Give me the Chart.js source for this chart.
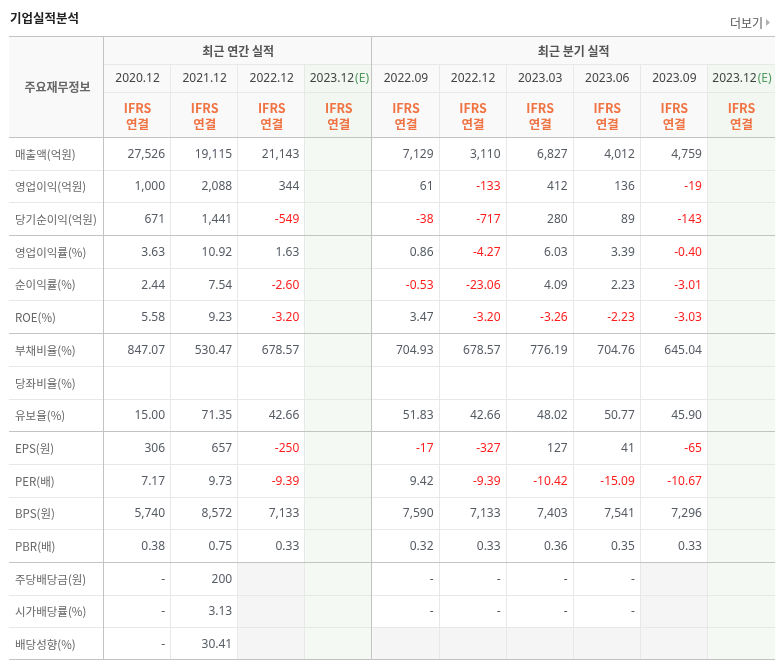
<!DOCTYPE html>
<html>
<head>
<meta charset="utf-8">
<script src="https://cdn.jsdelivr.net/npm/chart.js@4.4.0/dist/chart.umd.min.js"></script>
<style>
html,body{margin:0;padding:0;background:#fff;}
canvas{display:block;}
</style>
</head>
<body>
<canvas id="c" width="781" height="665"></canvas>
<script>
// ---- texts ----
const pageTitle = '기업실적분석';
const moreLabel = '더보기';
const annualHeader = '최근 연간 실적';
const quarterHeader = '최근 분기 실적';
const rowHeader = '주요재무정보';
const basisLines = ['IFRS', '연결'];
const estimateMark = '(E)';

// ---- categories ----
const annualPeriods = ['2020.12', '2021.12', '2022.12', '2023.12'];
const quarterPeriods = ['2022.09', '2022.12', '2023.03', '2023.06', '2023.09', '2023.12'];
const estimateFlags = [false, false, false, true, false, false, false, false, false, true];
const metrics = [
  '매출액(억원)', '영업이익(억원)', '당기순이익(억원)',
  '영업이익률(%)', '순이익률(%)', 'ROE(%)',
  '부채비율(%)', '당좌비율(%)', '유보율(%)',
  'EPS(원)', 'PER(배)', 'BPS(원)', 'PBR(배)',
  '주당배당금(원)', '시가배당률(%)', '배당성향(%)'
];

// ---- values (10 columns: 4 annual, 6 quarterly) ----
// null = empty cell, '' = not provided (shaded), '-' = dash
const revenue        = [27526, 19115, 21143, null, 7129, 3110, 6827, 4012, 4759, null];
const operatingProfit= [1000, 2088, 344, null, 61, -133, 412, 136, -19, null];
const netIncome      = [671, 1441, -549, null, -38, -717, 280, 89, -143, null];
const operatingMargin= [3.63, 10.92, 1.63, null, 0.86, -4.27, 6.03, 3.39, -0.40, null];
const netMargin      = [2.44, 7.54, -2.60, null, -0.53, -23.06, 4.09, 2.23, -3.01, null];
const roe            = [5.58, 9.23, -3.20, null, 3.47, -3.20, -3.26, -2.23, -3.03, null];
const debtRatio      = [847.07, 530.47, 678.57, null, 704.93, 678.57, 776.19, 704.76, 645.04, null];
const quickRatio     = [null, null, null, null, null, null, null, null, null, null];
const reserveRatio   = [15.00, 71.35, 42.66, null, 51.83, 42.66, 48.02, 50.77, 45.90, null];
const eps            = [306, 657, -250, null, -17, -327, 127, 41, -65, null];
const per            = [7.17, 9.73, -9.39, null, 9.42, -9.39, -10.42, -15.09, -10.67, null];
const bps            = [5740, 8572, 7133, null, 7590, 7133, 7403, 7541, 7296, null];
const pbr            = [0.38, 0.75, 0.33, null, 0.32, 0.33, 0.36, 0.35, 0.33, null];
const dps            = ['-', 200, '', null, '-', '-', '-', '-', '', null];
const dividendYield  = ['-', 3.13, '', null, '-', '-', '-', '-', '', null];
const payoutRatio    = ['-', 30.41, '', null, '', '', '', '', '', null];

const rowValues = [revenue, operatingProfit, netIncome, operatingMargin, netMargin, roe,
  debtRatio, quickRatio, reserveRatio, eps, per, bps, pbr, dps, dividendYield, payoutRatio];

// ---- build chart data ----
const columnKeys = annualPeriods.map(p => '연간 ' + p).concat(quarterPeriods.map(p => '분기 ' + p));
const columnPeriods = annualPeriods.concat(quarterPeriods);

const datasets = metrics.map((m, r) => ({
  label: m,
  data: columnKeys.map((k, c) => ({ x: k, y: m, v: rowValues[r][c] })),
  pointRadius: 0,
  showLine: false
}));

const KR = '"Noto Sans CJK KR", "Noto Sans", sans-serif';
const NUM = '"Noto Sans", "Noto Sans CJK KR", sans-serif';

function decimalsFor(metric) {
  return (metric.indexOf('%') >= 0 || metric.indexOf('배)') >= 0) ? 2 : 0;
}
function fmt(v, dec) {
  if (v === null || v === undefined) return '';
  if (typeof v === 'string') return v;
  return v.toLocaleString('en-US', { minimumFractionDigits: dec, maximumFractionDigits: dec });
}

const tablePlugin = {
  id: 'tablePlugin',
  beforeDraw(chart) {
    const ctx = chart.ctx;
    const xs = chart.scales.x, ys = chart.scales.y;
    const ca = chart.chartArea;
    const colW = xs.getPixelForValue(1) - xs.getPixelForValue(0);
    const rowH = ys.getPixelForValue(1) - ys.getPixelForValue(0);
    const L = 9, T = 36, H1 = 64, H2 = 92;
    const R = ca.right, HB = ca.top, B = ca.bottom;
    const colLeft = c => xs.getPixelForValue(c) - colW / 2;
    const rowTop = r => ys.getPixelForValue(r) - rowH / 2;

    ctx.save();
    ctx.fillStyle = '#ffffff';
    ctx.fillRect(0, 0, chart.width, chart.height);

    // header background
    ctx.fillStyle = '#f9f9f9';
    ctx.fillRect(L, T, R - L, HB - T);

    // estimate columns
    estimateFlags.forEach((e, c) => {
      if (!e) return;
      ctx.fillStyle = '#f2f7f2';
      ctx.fillRect(colLeft(c), H1, colW, HB - H1);
      ctx.fillStyle = '#f4f9f4';
      ctx.fillRect(colLeft(c), HB, colW, B - HB);
    });

    // not-provided cells
    rowValues.forEach((vals, r) => {
      vals.forEach((v, c) => {
        if (v === '') {
          ctx.fillStyle = '#f5f5f5';
          ctx.fillRect(colLeft(c), rowTop(r), colW, rowH);
        }
      });
    });

    const hline = (x0, x1, y, col) => {
      ctx.strokeStyle = col; ctx.lineWidth = 1;
      ctx.beginPath(); ctx.moveTo(x0, Math.round(y) + 0.5); ctx.lineTo(x1, Math.round(y) + 0.5); ctx.stroke();
    };
    const vline = (x, y0, y1, col) => {
      ctx.strokeStyle = col; ctx.lineWidth = 1;
      ctx.beginPath(); ctx.moveTo(Math.round(x) - 0.5, y0); ctx.lineTo(Math.round(x) - 0.5, y1); ctx.stroke();
    };
    const LIGHT = '#e8e8e8', DARK = '#c3c3c3';

    for (let c = 1; c < columnKeys.length; c++) {
      if (c === annualPeriods.length) continue;
      vline(colLeft(c), H1, B, LIGHT);
    }
    hline(ca.left, R, H1, LIGHT);
    hline(ca.left, R, H2, LIGHT);
    const groupEnds = [2, 5, 8, 12];
    for (let r = 1; r < metrics.length; r++) {
      if (groupEnds.indexOf(r - 1) >= 0) continue;
      hline(L, R, rowTop(r), LIGHT);
    }
    groupEnds.forEach(g => hline(L, R, rowTop(g + 1), DARK));
    hline(L, R, T, DARK);
    hline(L, R, HB, DARK);
    hline(L, R, B - 1, DARK);
    vline(ca.left, T, B, DARK);
    vline(colLeft(annualPeriods.length), T, B, DARK);
    ctx.restore();
  },
  afterDatasetsDraw(chart) {
    const ctx = chart.ctx;
    const xs = chart.scales.x, ys = chart.scales.y;
    const ca = chart.chartArea;
    const colW = xs.getPixelForValue(1) - xs.getPixelForValue(0);
    const L = 9, T = 36, H1 = 64, H2 = 92, HB = ca.top;
    ctx.save();

    ctx.fillStyle = '#222';
    ctx.font = 'bold 12.5px ' + KR;
    ctx.textAlign = 'left'; ctx.textBaseline = 'middle';
    ctx.fillText(pageTitle, 10, 18);

    ctx.fillStyle = '#555';
    ctx.font = '12px ' + KR;
    ctx.textAlign = 'right';
    ctx.fillText(moreLabel, 763, 23);
    ctx.fillStyle = '#b0b0b0';
    ctx.beginPath(); ctx.moveTo(766, 19); ctx.lineTo(770, 22.5); ctx.lineTo(766, 26); ctx.closePath(); ctx.fill();

    ctx.fillStyle = '#555';
    ctx.font = 'bold 12px ' + KR;
    ctx.textAlign = 'center';
    const nA = annualPeriods.length;
    const aMid = (xs.getPixelForValue(0) + xs.getPixelForValue(nA - 1)) / 2;
    const qMid = (xs.getPixelForValue(nA) + xs.getPixelForValue(columnKeys.length - 1)) / 2;
    ctx.fillText(annualHeader, aMid, (T + H1) / 2 + 1);
    ctx.fillText(quarterHeader, qMid, (T + H1) / 2 + 1);
    ctx.fillStyle = '#666';
    ctx.fillText(rowHeader, (L + ca.left) / 2 + 1, (T + HB) / 2 + 1);

    columnKeys.forEach((k, c) => {
      const cx = xs.getPixelForValue(c);
      ctx.font = '12px ' + NUM;
      const p = columnPeriods[c];
      if (estimateFlags[c]) {
        const w1 = ctx.measureText(p).width;
        const w2 = ctx.measureText(estimateMark).width;
        const x0 = cx - (w1 + w2) / 2;
        ctx.textAlign = 'left';
        ctx.fillStyle = '#444';
        ctx.fillText(p, x0, (H1 + H2) / 2 + 1);
        ctx.fillStyle = '#4e9a5e';
        ctx.fillText(estimateMark, x0 + w1 + 1, (H1 + H2) / 2 + 1);
      } else {
        ctx.textAlign = 'center';
        ctx.fillStyle = '#444';
        ctx.fillText(p, cx, (H1 + H2) / 2 + 1);
      }
      ctx.textAlign = 'center';
      ctx.fillStyle = '#ef7343';
      ctx.font = 'bold 12.5px ' + KR;
      ctx.fillText(basisLines[0], cx, 108);
      ctx.fillText(basisLines[1], cx, 124);
    });

    ctx.textAlign = 'left';
    ctx.fillStyle = '#666';
    ctx.font = '11.5px ' + KR;
    metrics.forEach((m, r) => {
      ctx.fillText(m, 15, ys.getPixelForValue(r) + 1);
    });

    ctx.textAlign = 'right';
    ctx.font = '12px ' + NUM;
    chart.data.datasets.forEach((ds, di) => {
      const meta = chart.getDatasetMeta(di);
      const dec = decimalsFor(ds.label);
      meta.data.forEach((el, i) => {
        const v = ds.data[i].v;
        const s = fmt(v, dec);
        if (!s) return;
        ctx.fillStyle = (typeof v === 'number' && v < 0) ? '#ff1e1e' : '#555b63';
        ctx.fillText(s, el.x + colW / 2 - 6, el.y + 1);
      });
    });
    ctx.restore();
  }
};

new Chart(document.getElementById('c').getContext('2d'), {
  type: 'line',
  data: { datasets },
  options: {
    responsive: false,
    animation: false,
    devicePixelRatio: 1,
    events: [],
    layout: { padding: { left: 104, right: 6, top: 137, bottom: 5 } },
    plugins: { legend: { display: false }, tooltip: { enabled: false }, title: { display: false } },
    scales: {
      x: { type: 'category', labels: columnKeys, offset: true, display: false },
      y: { type: 'category', labels: metrics, offset: true, display: false }
    }
  },
  plugins: [tablePlugin]
});
</script>
</body>
</html>
